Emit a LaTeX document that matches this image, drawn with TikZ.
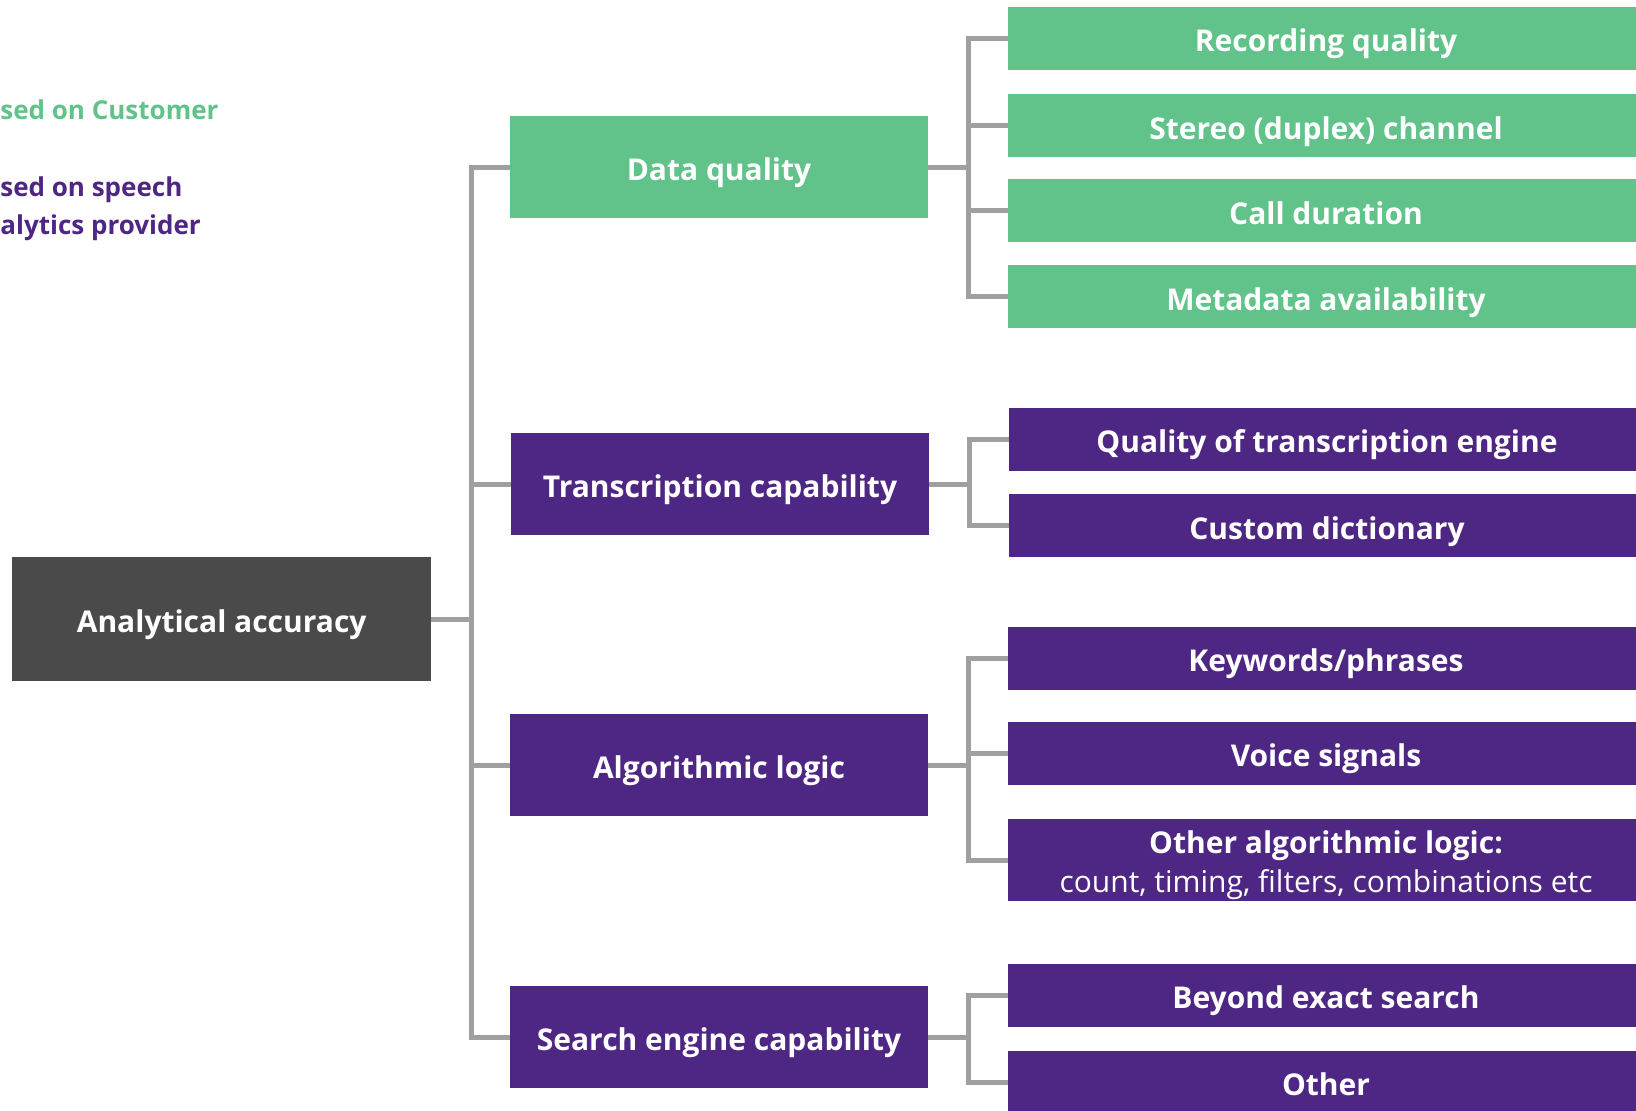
\documentclass[tikz,border=0pt]{standalone}
\usepackage{fontspec}
\setmainfont{Open Sans}
\definecolor{grn}{HTML}{61C38A}
\definecolor{prp}{HTML}{4E2683}
\definecolor{drk}{HTML}{4A4A4A}
\definecolor{lnk}{HTML}{A0A0A0}
\tikzset{
  box/.style={rectangle, inner sep=0pt, text=white, align=center,
    text height=13.4pt, text depth=0pt,
    font=\fontsize{15}{19.8}\selectfont\bfseries},
  rootbox/.style={box, fill=drk, minimum width=209.25pt, minimum height=62pt},
  topic/.style={box, minimum width=209pt, minimum height=51pt},
  leaf/.style={box, minimum width=318pt, minimum height=31.5pt},
  gtopic/.style={topic, fill=grn},
  ptopic/.style={topic, fill=prp},
  gleaf/.style={leaf, fill=grn},
  pleaf/.style={leaf, fill=prp},
  link/.style={draw=lnk, line width=2.5pt, line join=miter},
  legend/.style={anchor=west, inner sep=0pt, align=left,
    text height=9.4pt, text depth=0pt,
    font=\fontsize{13}{19.3}\selectfont\bfseries}
}
\begin{document}
\begin{tikzpicture}[x=0.5pt, y=-0.5pt]
\useasboundingbox (0,0) rectangle (1636,1110);
\clip (0,0) rectangle (1636,1110);

% legend
\node[legend, text=grn] (lg1) at (0,109.6) {sed on Customer};
\node[legend, text=prp, text height=28.7pt] (lg2) at (0,206.1) {sed on speech\\alytics provider};

% root and main topics
\node[rootbox] (root) at (221.7,619) {Analytical accuracy};
\node[gtopic] (dq) at (719,167) {Data quality};
\node[ptopic] (tc) at (720,484) {Transcription capability};
\node[ptopic] (al) at (719,765) {Algorithmic logic};
\node[ptopic] (se) at (719,1037) {Search engine capability};

% leaves
\node[gleaf] (rq) at (1326,38.5) {Recording quality};
\node[gleaf] (st) at (1326,125.8) {Stereo (duplex) channel};
\node[gleaf] (cd) at (1326,210.8) {Call duration};
\node[gleaf] (md) at (1326,296.8) {Metadata availability};
\node[pleaf] (qt) at (1327,439.3) {Quality of transcription engine};
\node[pleaf] (cu) at (1327,525.8) {Custom dictionary};
\node[pleaf] (kw) at (1326,658.4) {Keywords/phrases};
\node[pleaf] (vs) at (1326,753.3) {Voice signals};
\node[pleaf, minimum height=41.25pt, text height=32.7pt] (oa) at (1326,860) {Other algorithmic logic:\\{\mdseries count, timing, filters, combinations etc}};
\node[pleaf] (be) at (1326,995.5) {Beyond exact search};
\node[pleaf] (ot) at (1326,1082.5) {Other};

% connectors
\foreach \t in {dq,tc,al,se}
  \draw[link] (root.east) -- ++(40,0) |- (\t.west);
\foreach \l in {rq,st,cd,md}
  \draw[link] (dq.east) -- ++(40,0) |- (\l.west);
\foreach \l in {qt,cu}
  \draw[link] (tc.east) -- ++(40,0) |- (\l.west);
\foreach \l in {kw,vs,oa}
  \draw[link] (al.east) -- ++(40,0) |- (\l.west);
\foreach \l in {be,ot}
  \draw[link] (se.east) -- ++(40,0) |- (\l.west);
\end{tikzpicture}
\end{document}
